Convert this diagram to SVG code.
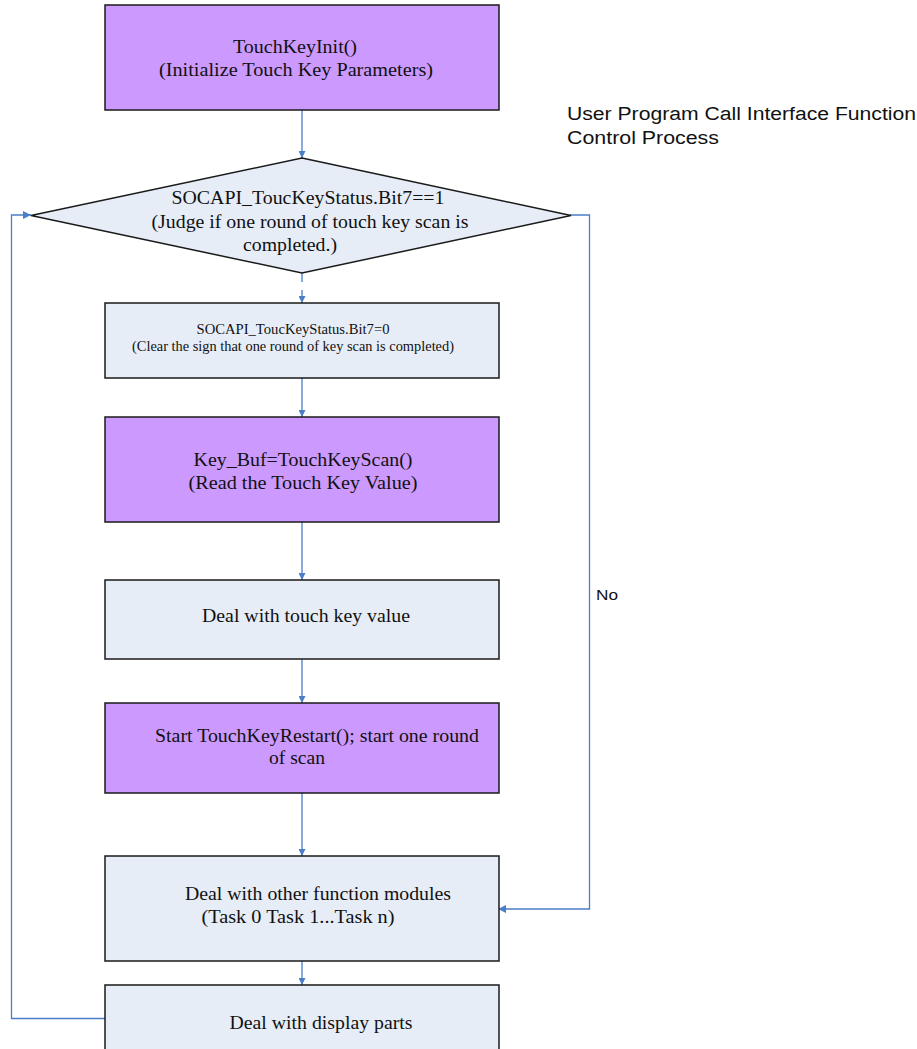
<svg xmlns="http://www.w3.org/2000/svg" width="917" height="1049" viewBox="0 0 917 1049">
<style>
.purple{fill:#CC99FF;stroke:#1a1a1a;stroke-width:1.5}
.light{fill:#E7EDF7;stroke:#1a1a1a;stroke-width:1.5}
.t{font-family:"Liberation Serif","Times New Roman",serif;fill:#111;text-anchor:middle}
.s{font-family:"Liberation Sans",Arial,sans-serif;fill:#111}
.c{fill:none;stroke:#4A7EC7;stroke-width:1.3}
</style>
<defs>
<marker id="ah" viewBox="0 0 10 10" refX="10" refY="5" markerWidth="7" markerHeight="7" markerUnits="userSpaceOnUse" orient="auto">
<path d="M0,0 L10,5 L0,10 z" fill="#4A7EC7"/>
</marker>
<marker id="ahw" viewBox="0 0 10 10" refX="10" refY="5" markerWidth="10" markerHeight="8" markerUnits="userSpaceOnUse" orient="auto">
<path d="M0,0 L10,5 L0,10 z" fill="#4A7EC7"/>
</marker>
</defs>

<g id="connectors">
<line class="c" x1="302" y1="110" x2="302" y2="158" marker-end="url(#ah)"/>
<line class="c" x1="302" y1="273" x2="302" y2="282"/>
<line class="c" x1="302" y1="290" x2="302" y2="303" marker-end="url(#ah)"/>
<line class="c" x1="302" y1="378" x2="302" y2="417" marker-end="url(#ah)"/>
<line class="c" x1="302" y1="522" x2="302" y2="580" marker-end="url(#ah)"/>
<line class="c" x1="302" y1="659" x2="302" y2="703" marker-end="url(#ah)"/>
<line class="c" x1="302" y1="793" x2="302" y2="856" marker-end="url(#ah)"/>
<line class="c" x1="302" y1="961" x2="302" y2="985" marker-end="url(#ah)"/>
<polyline class="c" points="570,215 589.5,215 589.5,909 498,909" marker-end="url(#ahw)"/>
<polyline class="c" points="105,1018.5 11.5,1018.5 11.5,215 31,215" marker-end="url(#ahw)"/>
</g>

<g id="n1">
<rect class="purple" x="105" y="5" width="394" height="105"/>
<text class="t" x="295" y="53" font-size="19" textLength="124" lengthAdjust="spacingAndGlyphs">TouchKeyInit()</text>
<text class="t" x="296" y="76" font-size="19" textLength="274" lengthAdjust="spacingAndGlyphs">(Initialize Touch Key Parameters)</text>
</g>

<g id="n2">
<polygon class="light" points="302,158 571,215.5 302,273 31,215.5"/>
<text class="t" x="308" y="204" font-size="19" textLength="273" lengthAdjust="spacingAndGlyphs">SOCAPI_ToucKeyStatus.Bit7==1</text>
<text class="t" x="310" y="228" font-size="19" textLength="317" lengthAdjust="spacingAndGlyphs">(Judge if one round of touch key scan is</text>
<text class="t" x="290" y="251" font-size="19" textLength="94" lengthAdjust="spacingAndGlyphs">completed.)</text>
</g>

<g id="n3">
<rect class="light" x="105" y="303" width="394" height="75"/>
<text class="t" x="293" y="334" font-size="14" textLength="193" lengthAdjust="spacingAndGlyphs">SOCAPI_ToucKeyStatus.Bit7=0</text>
<text class="t" x="293" y="351" font-size="14" textLength="322" lengthAdjust="spacingAndGlyphs">(Clear the sign that one round of key scan is completed)</text>
</g>

<g id="n4">
<rect class="purple" x="105" y="417" width="394" height="105"/>
<text class="t" x="303" y="466" font-size="19" textLength="219" lengthAdjust="spacingAndGlyphs">Key_Buf=TouchKeyScan()</text>
<text class="t" x="303" y="489" font-size="19" textLength="229" lengthAdjust="spacingAndGlyphs">(Read the Touch Key Value)</text>
</g>

<g id="n5">
<rect class="light" x="105" y="580" width="394" height="79"/>
<text class="t" x="306" y="622" font-size="19" textLength="208" lengthAdjust="spacingAndGlyphs">Deal with touch key value</text>
</g>

<g id="n6">
<rect class="purple" x="105" y="703" width="394" height="90"/>
<text class="t" x="317" y="742" font-size="19" textLength="324" lengthAdjust="spacingAndGlyphs">Start TouchKeyRestart(); start one round</text>
<text class="t" x="297" y="764" font-size="19" textLength="56" lengthAdjust="spacingAndGlyphs">of scan</text>
</g>

<g id="n7">
<rect class="light" x="105" y="856" width="394" height="105"/>
<text class="t" x="318" y="900" font-size="19" textLength="266" lengthAdjust="spacingAndGlyphs">Deal with other function modules</text>
<text class="t" x="298" y="923" font-size="19" textLength="193" lengthAdjust="spacingAndGlyphs">(Task 0 Task 1...Task n)</text>
</g>

<g id="n8">
<rect class="light" x="105" y="985" width="394" height="80"/>
<text class="t" x="321" y="1029" font-size="19" textLength="183" lengthAdjust="spacingAndGlyphs">Deal with display parts</text>
</g>

<g id="labels">
<text class="s" x="567" y="120" font-size="18" textLength="349" lengthAdjust="spacingAndGlyphs">User Program Call Interface Function</text>
<text class="s" x="567" y="144" font-size="18" textLength="152" lengthAdjust="spacingAndGlyphs">Control Process</text>
<text class="s" x="596" y="600" font-size="15" textLength="22" lengthAdjust="spacingAndGlyphs">No</text>
</g>
</svg>
